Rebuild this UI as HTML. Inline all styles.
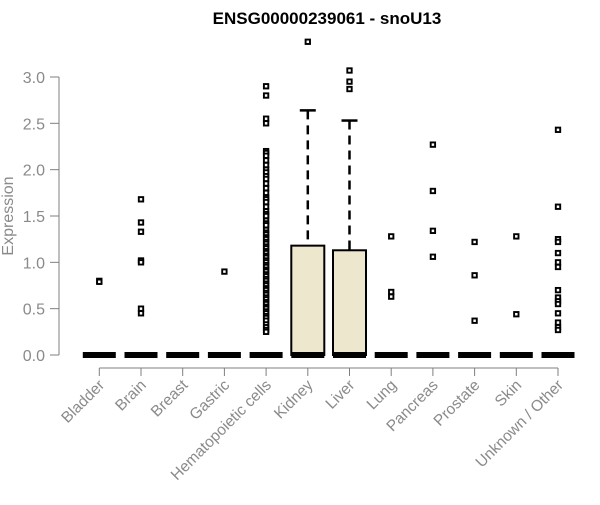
<!DOCTYPE html>
<html><head><meta charset="utf-8"><style>
body{margin:0;background:#fff;font-family:"Liberation Sans",Arial,sans-serif}
</style></head><body>
<svg id="chart" width="600" height="500" xmlns="http://www.w3.org/2000/svg">
<text x="327" y="24" text-anchor="middle" font-weight="bold" font-size="17" fill="#000">ENSG00000239061 - snoU13</text>
<text transform="translate(13,216) rotate(-90)" text-anchor="middle" font-size="16" fill="#8a8a8a">Expression</text>
<g id="yaxis"></g>
<g id="xaxis"></g>
<g id="plot"></g>
</svg>
<script>
const categories=["Bladder","Brain","Breast","Gastric","Hematopoietic cells","Kidney","Liver","Lung","Pancreas","Prostate","Skin","Unknown / Other"];
const q1=[0,0,0,0,0,0,0,0,0,0,0,0];
const medians=[0,0,0,0,0,0,0,0,0,0,0,0];
const q3=[0,0,0,0,0,1.18,1.13,0,0,0,0,0];
const whiskerHigh=[0,0,0,0,0,2.64,2.53,0,0,0,0,0];
const outliers=[
[0.8,0.79],
[1.68,1.43,1.33,1.02,1.0,0.5,0.45],
[],
[0.9],
[2.9,2.8,2.55,2.5,2.2,2.18,2.15,2.1,2.05,2.0,1.97,1.93,1.9,1.85,1.8,1.75,1.7,1.68,1.65,1.6,1.55,1.52,1.5,1.45,1.42,1.4,1.35,1.32,1.3,1.27,1.25,1.22,1.2,1.17,1.15,1.12,1.1,1.07,1.05,1.02,1.0,0.97,0.95,0.92,0.9,0.87,0.85,0.82,0.8,0.77,0.75,0.72,0.7,0.67,0.65,0.62,0.6,0.57,0.55,0.52,0.5,0.47,0.45,0.42,0.4,0.37,0.33,0.3,0.27,0.25],
[3.38],
[3.07,2.95,2.87],
[1.28,0.68,0.63],
[2.27,1.77,1.34,1.06],
[1.22,0.86,0.37],
[1.28,0.44],
[2.43,1.6,1.25,1.22,1.1,1.0,0.95,0.7,0.62,0.58,0.55,0.45,0.35,0.3,0.27]
];
const yTicks=[0,0.5,1,1.5,2,2.5,3];
const yTickLabels=["0.0","0.5","1.0","1.5","2.0","2.5","3.0"];
const NS="http://www.w3.org/2000/svg";
const y=v=>355-v*92.67;
const x=i=>99.3+i*41.7;
function mk(tag,attrs,parent){const e=document.createElementNS(NS,tag);for(const k in attrs)e.setAttribute(k,attrs[k]);parent.appendChild(e);return e;}
const ya=document.getElementById('yaxis'),xa=document.getElementById('xaxis'),pl=document.getElementById('plot');
let l=mk('line',{x1:59,x2:59,y1:y(3),y2:y(0),stroke:'#7f7f7f'},ya);


yTicks.forEach((t,i)=>{
 const tk=mk('line',{x1:50,x2:59,y1:y(t),y2:y(t),stroke:'#7f7f7f'},ya);
 
 
 const tx=mk('text',{x:45,y:y(t)+6,'text-anchor':'end','font-size':16,fill:'#8a8a8a'},ya);
 tx.textContent=yTickLabels[i];
 
 
});
l=mk('line',{x1:x(0),x2:x(categories.length-1),y1:368,y2:368,stroke:'#7f7f7f'},xa);


categories.forEach((c,i)=>{
 const tk=mk('line',{x1:x(i),x2:x(i),y1:368,y2:376,stroke:'#7f7f7f'},xa);
 
 
 const tx=mk('text',{transform:`translate(${x(i)+6},${386}) rotate(-45)`,'text-anchor':'end','font-size':15.5,fill:'#8a8a8a'},xa);
 tx.textContent=c;
 
 
});
const hw=16.5;
categories.forEach((c,i)=>{
 const g=mk('g',{},pl);
 
 
 if(whiskerHigh[i]>q3[i]){
  mk('line',{x1:x(i),x2:x(i),y1:y(whiskerHigh[i]),y2:y(q3[i]),stroke:'#000','stroke-width':2.5,'stroke-dasharray':'9,6'},g);
  mk('line',{x1:x(i)-8,x2:x(i)+8,y1:y(whiskerHigh[i]),y2:y(whiskerHigh[i]),stroke:'#000','stroke-width':2.5},g);
 }
 if(q3[i]>q1[i]){
  mk('rect',{x:x(i)-hw,y:y(q3[i]),width:2*hw,height:y(q1[i])-y(q3[i]),fill:'#ede7cd',stroke:'#000','stroke-width':2},g);
 }
 mk('line',{x1:x(i)-hw,x2:x(i)+hw,y1:y(medians[i]),y2:y(medians[i]),stroke:'#000','stroke-width':6},g);
 outliers[i].forEach(v=>{
  const p=mk('rect',{x:x(i)-2.2,y:y(v)-2.2,width:4.4,height:4.4,fill:'#fff',stroke:'#000','stroke-width':1.9},g);
  
  
 });
});
</script>
</body></html>
